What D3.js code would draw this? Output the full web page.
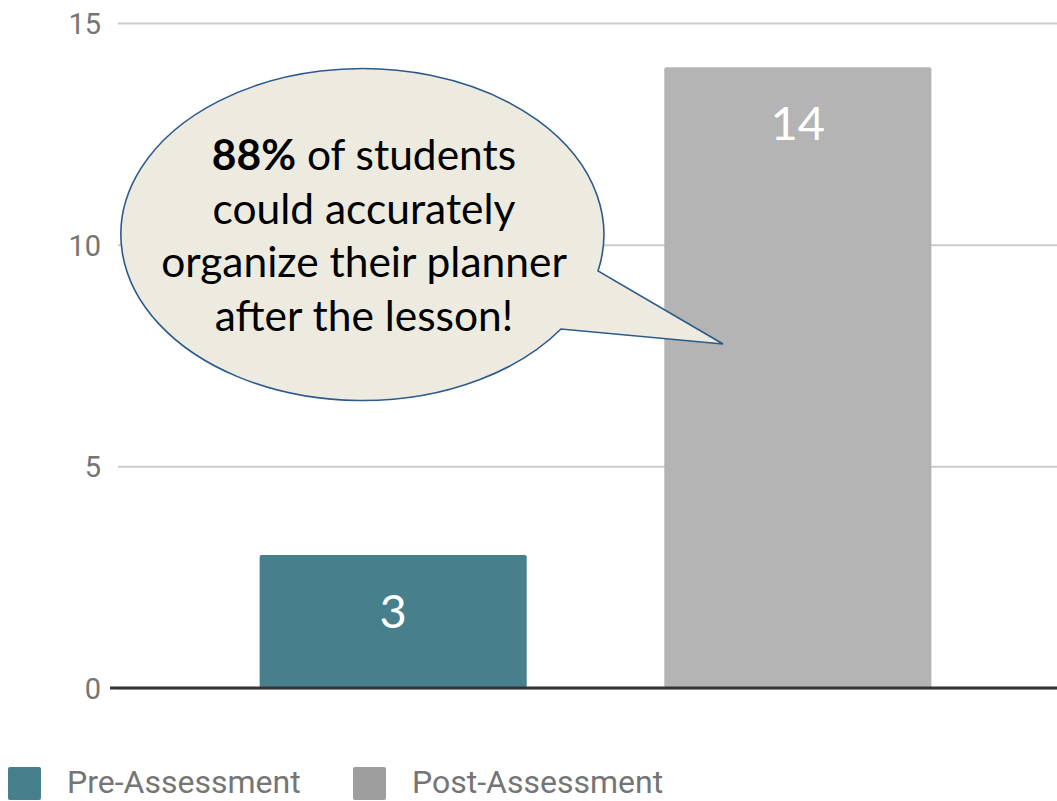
<!DOCTYPE html>
<html>
<head>
<meta charset="utf-8">
<script src="https://cdn.jsdelivr.net/npm/d3@7"></script>
<style>
  html, body { margin: 0; padding: 0; background: #fff; overflow: hidden; }
</style>
</head>
<body>
<div id="chart"></div>
<script>
// data
const categories = ['Pre-Assessment', 'Post-Assessment'];
const values = [3, 14];
const barColors = ['#477f8c', '#b4b4b4'];
const legendColors = ['#477f8c', '#9e9e9e'];
const yTicks = [0, 5, 10, 15];
const calloutLines = [
  [{ t: '88%', bold: true }, { t: ' of students', bold: false }],
  [{ t: 'could accurately', bold: false }],
  [{ t: 'organize their planner', bold: false }],
  [{ t: 'after the lesson!', bold: false }]
];

const width = 1057;
const height = 801;

const svg = d3.select('#chart')
  .append('svg')
  .attr('width', width)
  .attr('height', height);

// scales
const x = d3.scaleBand()
  .domain(categories)
  .range([118, 1073])
  .paddingInner(0.34)
  .paddingOuter(0.35);

const y = d3.scaleLinear()
  .domain([0, 15])
  .range([688, 23]);

// gridlines + tick labels
const yAxis = svg.append('g')
  .attr('transform', 'translate(118,0)')
  .call(d3.axisLeft(y).tickValues(yTicks).tickSize(-(width - 118)).tickPadding(17));
yAxis.select('.domain').remove();
yAxis.selectAll('.tick line')
  .attr('stroke', '#cccccc')
  .attr('stroke-width', 2);
yAxis.selectAll('.tick text')
  .attr('fill', '#757575')
  .style('font-family', 'Roboto, sans-serif')
  .style('font-size', '29px')
  .attr('dy', '0.36em');

// bars
svg.selectAll('rect.bar')
  .data(values)
  .enter()
  .append('rect')
  .attr('class', 'bar')
  .attr('x', (d, i) => x(categories[i]))
  .attr('y', d => y(d))
  .attr('width', x.bandwidth())
  .attr('height', d => y(0) - y(d))
  .attr('rx', 2)
  .attr('fill', (d, i) => barColors[i]);

// baseline
svg.append('line')
  .attr('x1', 110)
  .attr('x2', width)
  .attr('y1', y(0))
  .attr('y2', y(0))
  .attr('stroke', '#333333')
  .attr('stroke-width', 3);

// value labels
svg.selectAll('text.val')
  .data(values)
  .enter()
  .append('text')
  .attr('class', 'val')
  .attr('x', (d, i) => x(categories[i]) + x.bandwidth() / 2)
  .attr('y', d => y(d) + 73)
  .attr('text-anchor', 'middle')
  .attr('fill', '#ffffff')
  .style('font-family', 'Lato, sans-serif')
  .style('font-size', '47px')
  .text(d => d);

// callout bubble
const rx = 241.5, ry = 166;
svg.append('path')
  .attr('d', `M598,271 A${rx},${ry} 0 1 0 561,329 L723,344 Z`)
  .attr('fill', '#edebe0')
  .attr('stroke', '#2c5a8c')
  .attr('stroke-width', 1.6);

const callout = svg.append('text')
  .attr('text-anchor', 'middle')
  .attr('fill', '#000')
  .style('font-family', 'Lato, sans-serif')
  .style('font-size', '42.5px');

calloutLines.forEach((line, i) => {
  const row = callout.append('tspan')
    .attr('x', 364)
    .attr('y', 170 + i * 53.5);
  line.forEach(part => {
    row.append('tspan')
      .style('font-weight', part.bold ? 'bold' : 'normal')
      .text(part.t);
  });
});

// legend
const legendX = [8, 353];
const legend = svg.selectAll('g.legend')
  .data(categories)
  .enter()
  .append('g')
  .attr('class', 'legend')
  .attr('transform', (d, i) => `translate(${legendX[i]},767)`);

legend.append('rect')
  .attr('width', 33)
  .attr('height', 33)
  .attr('rx', 2)
  .attr('fill', (d, i) => legendColors[i]);

legend.append('text')
  .attr('x', 59)
  .attr('y', 26)
  .attr('fill', '#757575')
  .style('font-family', 'Roboto, sans-serif')
  .style('font-size', '32px')
  .text(d => d);
</script>
</body>
</html>
